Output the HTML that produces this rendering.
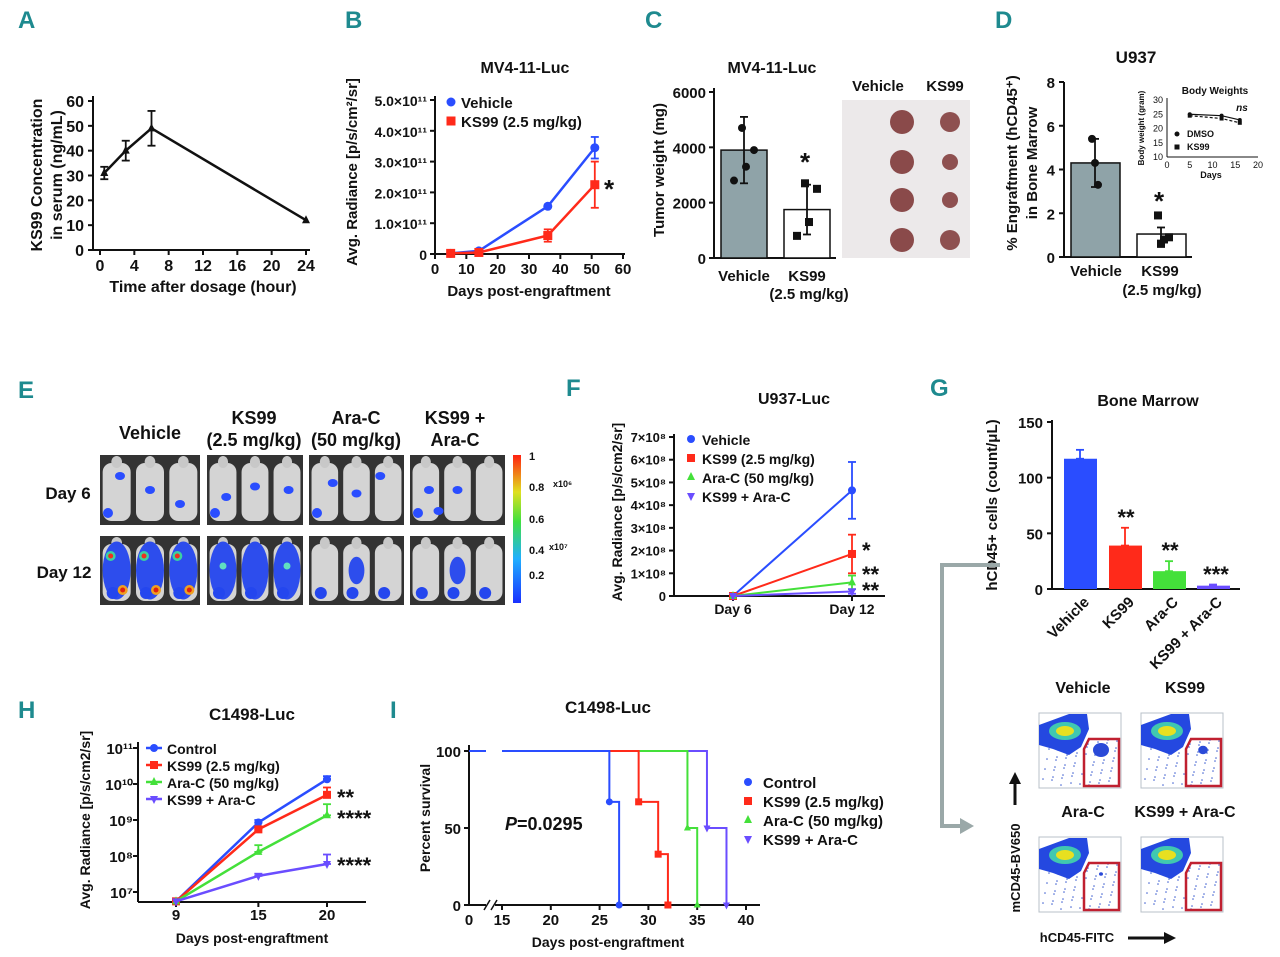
<!DOCTYPE html>
<html><head><meta charset="utf-8">
<style>
html,body{margin:0;padding:0;background:#fff;}
svg{display:block;font-family:"Liberation Sans",Arial,sans-serif;font-weight:bold;}
</style></head>
<body>
<svg id="fig" width="1280" height="957" viewBox="0 0 1280 957" xmlns="http://www.w3.org/2000/svg"></svg>
<script>
// ---------- DATA ----------
// Panel A
const aTimes=[0.5,3,6,24];
const aConc=[31,40,49,12];
const aErr=[2.5,4,7,0];
const aXTicks=[0,4,8,12,16,20,24];
const aYTicks=[0,10,20,30,40,50,60];
// Panel B
const bDays=[5,14,36,51];
const bVehicle=[0.02,0.1,1.55,3.45];
const bVehicleErr=[0,0,0,0.35];
const bKS99=[0.02,0.05,0.6,2.25];
const bKS99Err=[0,0,0.2,0.75];
const bXTicks=[0,10,20,30,40,50,60];
const bYTicks=[0,1,2,3,4,5];
const bYLabels=["0","1.0×10¹¹","2.0×10¹¹","3.0×10¹¹","4.0×10¹¹","5.0×10¹¹"];
// Panel C
const cGroups=["Vehicle","KS99"];
const cMeans=[3900,1750];
const cErrs=[1200,900];
const cPoints=[[4700,3900,3300,2800],[2700,2500,1300,800]];
const cYTicks=[0,2000,4000,6000];
// Panel D
const dMeans=[4.3,1.05];
const dErrs=[1.1,0.3];
const dPoints=[[5.4,3.3,4.3],[1.9,0.8,0.6,0.9]];
const dYTicks=[0,2,4,6,8];
const dInsetDays=[5,12,16];
const dInsetDMSO=[25,24.5,23];
const dInsetKS99=[24.5,23.5,22];
const dInsetYTicks=[10,15,20,25,30];
const dInsetXTicks=[0,5,10,15,20];
// Panel F
const fDays=["Day 6","Day 12"];
const fVehicle=[0,4.65];const fVehicleErr=[0,1.25];
const fKS99=[0,1.85];const fKS99Err=[0,0.85];
const fAraC=[0,0.6];const fAraCErr=[0,0.3];
const fCombo=[0,0.2];const fComboErr=[0,0.1];
const fYTicks=[0,1,2,3,4,5,6,7];
// Panel G
const gGroups=["Vehicle","KS99","Ara-C","KS99 + Ara-C"];
const gMeans=[117,39,16,3];
const gErrs=[8,16,9,1];
const gYTicks=[0,50,100,150];
// Panel H
const hDays=[9,15,20];
const hControl=[5.5e6,8.5e8,1.35e10];
const hKS99=[5.5e6,5.5e8,5e9];
const hAraC=[5.5e6,1.3e8,1.35e9];
const hCombo=[5.5e6,2.8e7,6e7];
const hControlErr=[0,1.5e8,3e9];
const hKS99Err=[0,1e8,3e9];
const hAraCErr=[0,7e7,1.4e9];
const hComboErr=[0,4e6,5e7];
const hYExp=[7,8,9,10,11];
// Panel I (survival steps: [time, percent])
const iControl=[[0,100],[26,100],[26,67],[27,67],[27,0]];
const iKS99=[[0,100],[29,100],[29,67],[31,67],[31,33],[32,33],[32,0]];
const iAraC=[[0,100],[34,100],[34,50],[35,50],[35,0]];
const iCombo=[[0,100],[36,100],[36,50],[38,50],[38,0]];
const iXTicks=[15,20,25,30,35,40];
const iYTicks=[0,50,100];

// ---------- HELPERS ----------
const NS="http://www.w3.org/2000/svg";
const svg=document.getElementById('fig');
function mk(tag,attrs,name,parent){
  const el=document.createElementNS(NS,tag);
  for(const k in attrs) el.setAttribute(k,attrs[k]);
  
  
  (parent||svg).appendChild(el);
  return el;
}
function T(x,y,s,size,anchor,name,extra){
  const a=Object.assign({x:x,y:y,'font-size':size,'text-anchor':anchor||'start',fill:'#111'},extra||{});
  const el=mk('text',a,name);
  el.textContent=s;
  return el;
}
function L(x1,y1,x2,y2,name,stroke,w,extra){
  return mk('line',Object.assign({x1:x1,y1:y1,x2:x2,y2:y2,stroke:stroke||'#111','stroke-width':w||2},extra||{}),name);
}
function P(d,name,stroke,w,fill){return mk('path',{d:d,stroke:stroke||'#111','stroke-width':w||2,fill:fill||'none'},name);}
function errbar(x,y1,y2,color,name){
  L(x,y1,x,y2,name,color,1.8);
  L(x-4,y1,x+4,y1,name+'-cap',color,1.8);
  L(x-4,y2,x+4,y2,name+'-cap',color,1.8);
}
function panelLetter(x,y,s){T(x,y,s,24,'start','panel-label-'+s,{fill:'#1e8a8f'});}
function marker(x,y,shape,color,name,size){
  const s=size||4.5;
  if(shape==='circle') return mk('circle',{cx:x,cy:y,r:s,fill:color},name);
  if(shape==='square') return mk('rect',{x:x-s,y:y-s,width:2*s,height:2*s,fill:color},name);
  if(shape==='tri') return mk('polygon',{points:`${x},${y-s-1} ${x-s},${y+s-1} ${x+s},${y+s-1}`,fill:color},name);
  if(shape==='dtri') return mk('polygon',{points:`${x},${y+s+1} ${x-s},${y-s+1} ${x+s},${y-s+1}`,fill:color},name);
}
const BLUE='#2a4dff',RED='#ff2a1a',GREEN='#44e03a',PURPLE='#6a4dff';

// ---------- PANEL A ----------
panelLetter(18,28,'A');
const axA={x:d=>100+d*(206/24),y:v=>250-v*(149/60)};
L(93,96,93,250,'a-y-axis');L(93,250,310,250,'a-x-axis');
aYTicks.forEach(v=>{L(88,axA.y(v),93,axA.y(v),'a-y-tick');T(84,axA.y(v)+6,v,16,'end','a-y-tick-label');});
aXTicks.forEach(v=>{L(axA.x(v),250,axA.x(v),255,'a-x-tick');T(axA.x(v),271,v,16,'middle','a-x-tick-label');});
T(203,292,'Time after dosage (hour)',16,'middle','a-x-title');
T(42,175,'KS99 Concentration',16,'middle','a-y-title',{transform:'rotate(-90 42 175)'});
T(62,175,'in serum (ng/mL)',16,'middle','a-y-title-2',{transform:'rotate(-90 62 175)'});
P('M'+aTimes.map((t,i)=>axA.x(t)+','+axA.y(aConc[i])).join(' L'),'a-line','#111',2.5);
aTimes.forEach((t,i)=>{if(aErr[i])errbar(axA.x(t),axA.y(aConc[i]-aErr[i]),axA.y(aConc[i]+aErr[i]),'#111','a-err');marker(axA.x(t),axA.y(aConc[i]),'tri','#111','a-point',4);});

// ---------- PANEL B ----------
panelLetter(345,28,'B');
T(525,73,'MV4-11-Luc',16,'middle','b-title');
const axB={x:d=>435+d*(188/60),y:v=>254-v*(154/5)};
L(435,96,435,254,'b-y-axis');L(435,254,625,254,'b-x-axis');
bYTicks.forEach((v,i)=>{L(430,axB.y(v),435,axB.y(v),'b-y-tick');T(427,axB.y(v)+6,bYLabels[i],14,'end','b-y-tick-label');});
bXTicks.forEach(v=>{L(axB.x(v),254,axB.x(v),259,'b-x-tick');T(axB.x(v),274,v,15,'middle','b-x-tick-label');});
T(529,296,'Days post-engraftment',15,'middle','b-x-title');
T(357,172,'Avg. Radiance [p/s/cm²/sr]',15,'middle','b-y-title',{transform:'rotate(-90 357 172)'});
P('M'+bDays.map((d,i)=>axB.x(d)+','+axB.y(bVehicle[i])).join(' L'),'b-vehicle-line',BLUE,2.5);
P('M'+bDays.map((d,i)=>axB.x(d)+','+axB.y(bKS99[i])).join(' L'),'b-ks99-line',RED,2.5);
bDays.forEach((d,i)=>{
  if(bVehicleErr[i])errbar(axB.x(d),axB.y(bVehicle[i]-bVehicleErr[i]),axB.y(bVehicle[i]+bVehicleErr[i]),BLUE,'b-vehicle-err');
  if(bKS99Err[i])errbar(axB.x(d),axB.y(bKS99[i]-bKS99Err[i]),axB.y(bKS99[i]+bKS99Err[i]),RED,'b-ks99-err');
  marker(axB.x(d),axB.y(bVehicle[i]),'circle',BLUE,'b-vehicle-point');
  marker(axB.x(d),axB.y(bKS99[i]),'square',RED,'b-ks99-point');
});
marker(451,102,'circle',BLUE,'b-legend-marker');T(461,108,'Vehicle',15,'start','b-legend-vehicle');
marker(451,121,'square',RED,'b-legend-marker');T(461,127,'KS99 (2.5 mg/kg)',15,'start','b-legend-ks99');
T(604,198,'*',26,'start','b-significance');

// ---------- PANEL C ----------
panelLetter(645,28,'C');
T(772,73,'MV4-11-Luc',16,'middle','c-title');
const axC={y:v=>258-v*(166/6000)};
const cBarX=[721,784];
L(714,88,714,258,'c-y-axis');L(714,258,836,258,'c-x-axis');
cYTicks.forEach(v=>{L(709,axC.y(v),714,axC.y(v),'c-y-tick');T(706,axC.y(v)+6,v,15,'end','c-y-tick-label');});
T(664,170,'Tumor weight (mg)',15,'middle','c-y-title',{transform:'rotate(-90 664 170)'});
cMeans.forEach((m,i)=>{
  mk('rect',{x:cBarX[i],y:axC.y(m),width:46,height:258-axC.y(m),fill:i===0?'#8fa3a8':'#fff',stroke:'#111','stroke-width':1.5},'c-bar-'+cGroups[i]);
  errbar(cBarX[i]+23,axC.y(m-cErrs[i]),axC.y(m+cErrs[i]),'#111','c-err');
  cPoints[i].forEach((p,j)=>marker(cBarX[i]+23+(j%2?10:-2)*(j>1?-1:1),axC.y(p),i===0?'circle':'square','#111','c-point',4));
});
T(744,281,'Vehicle',15,'middle','c-x-label');T(807,281,'KS99',15,'middle','c-x-label');T(809,299,'(2.5 mg/kg)',15,'middle','c-x-label-2');
T(800,171,'*',26,'start','c-significance');
mk('rect',{x:842,y:100,width:128,height:158,fill:'#ece9ea'},'c-tumor-photo');
T(878,91,'Vehicle',15,'middle','c-photo-label-vehicle');T(945,91,'KS99',15,'middle','c-photo-label-ks99');
[[122,120],[162,158],[200,200],[240,235]].forEach((r,k)=>{
  mk('circle',{cx:902,cy:r[0],r:12,fill:'#8a4a4a'},'c-tumor-vehicle');
  mk('circle',{cx:950,cy:r[0],r:[10,8,8,10][k],fill:'#8e5050'},'c-tumor-ks99');
});

// ---------- PANEL D ----------
panelLetter(995,28,'D');
T(1136,63,'U937',17,'middle','d-title');
const axD={y:v=>257-v*(175/8)};
const dBarX=[1071,1137];
L(1064,82,1064,257,'d-y-axis');L(1064,257,1192,257,'d-x-axis');
dYTicks.forEach(v=>{L(1059,axD.y(v),1064,axD.y(v),'d-y-tick');T(1055,axD.y(v)+6,v,15,'end','d-y-tick-label');});
T(1017,163,'% Engraftment (hCD45⁺)',15,'middle','d-y-title',{transform:'rotate(-90 1017 163)'});
T(1037,163,'in Bone Marrow',15,'middle','d-y-title-2',{transform:'rotate(-90 1037 163)'});
dMeans.forEach((m,i)=>{
  mk('rect',{x:dBarX[i],y:axD.y(m),width:49,height:257-axD.y(m),fill:i===0?'#8fa3a8':'#fff',stroke:'#111','stroke-width':1.5},'d-bar');
  errbar(dBarX[i]+24,axD.y(m-dErrs[i]),axD.y(m+dErrs[i]),'#111','d-err');
  dPoints[i].forEach((p,j)=>marker(dBarX[i]+24+[-3,3,0,8][j],axD.y(p),i===0?'circle':'square','#111','d-point',4));
});
T(1096,276,'Vehicle',15,'middle','d-x-label');T(1160,276,'KS99',15,'middle','d-x-label');T(1162,295,'(2.5 mg/kg)',15,'middle','d-x-label-2');
T(1154,210,'*',26,'start','d-significance');
const axDi={x:d=>1167+d*(91/20),y:v=>157-(v-10)*(57/20)};
T(1215,94,'Body Weights',10,'middle','d-inset-title');
L(1167,98,1167,157,'d-inset-y-axis',"#111",1);L(1167,157,1258,157,'d-inset-x-axis',"#111",1);
dInsetYTicks.forEach(v=>T(1163,axDi.y(v)+3,v,9,'end','d-inset-y-label',{'font-weight':'normal'}));
dInsetXTicks.forEach(v=>T(axDi.x(v),168,v,9,'middle','d-inset-x-label',{'font-weight':'normal'}));
T(1211,178,'Days',9,'middle','d-inset-x-title');
T(1144,128,'Body weight (gram)',8,'middle','d-inset-y-title',{transform:'rotate(-90 1144 128)'});
P('M'+dInsetDays.map((d,i)=>axDi.x(d)+','+axDi.y(dInsetDMSO[i])).join(' L'),'d-inset-dmso','#111',1.2);
P('M'+dInsetDays.map((d,i)=>axDi.x(d)+','+axDi.y(dInsetKS99[i])).join(' L'),'d-inset-ks99','#111',1.2).setAttribute('stroke-dasharray','3,2');
dInsetDays.forEach((d,i)=>{marker(axDi.x(d),axDi.y(dInsetDMSO[i]),'circle','#111','d-inset-point',2);marker(axDi.x(d),axDi.y(dInsetKS99[i]),'square','#111','d-inset-point',2);});
T(1242,111,'ns',10,'middle','d-inset-ns',{'font-style':'italic'});
marker(1177,134,'circle','#111','d-inset-legend',2.5);T(1187,137,'DMSO',9,'start','d-inset-legend-dmso');
marker(1177,147,'square','#111','d-inset-legend',2.5);T(1187,150,'KS99',9,'start','d-inset-legend-ks99');

// ---------- PANEL E ----------
panelLetter(18,398,'E');
T(150,439,'Vehicle',18,'middle','e-group-vehicle');
T(254,424,'KS99',18,'middle','e-group-ks99');T(254,446,'(2.5 mg/kg)',18,'middle','e-group-ks99-2');
T(356,424,'Ara-C',18,'middle','e-group-arac');T(356,446,'(50 mg/kg)',18,'middle','e-group-arac-2');
T(455,424,'KS99 +',18,'middle','e-group-combo');T(455,446,'Ara-C',18,'middle','e-group-combo-2');
T(68,499,'Day 6',17,'middle','e-row-day6');T(64,578,'Day 12',17,'middle','e-row-day12');
const eGroupX=[[100,200],[207,303],[309,404],[410,505]];
const eSpots6=[[[0.2,0.3],[0.5,0.5],[0.8,0.7]],[[0.2,0.6],[0.5,0.45],[0.85,0.5]],[[0.25,0.4],[0.5,0.55],[0.75,0.3]],[[0.2,0.5],[0.5,0.5],[0.3,0.8]]];
const eLevel12=[3,2,1,1];
eGroupX.forEach((g,gi)=>{
  [[455,525],[536,605]].forEach((r,ri)=>{
    mk('rect',{x:g[0],y:r[0],width:g[1]-g[0],height:r[1]-r[0],fill:'#333'},'e-mouse-image');
    const w=(g[1]-g[0])/3;
    for(let m=0;m<3;m++){
      const cx=g[0]+w*m+w/2;
      mk('rect',{x:cx-w*0.42,y:r[0]+8,width:w*0.84,height:r[1]-r[0]-12,rx:9,fill:'#d4d4d4'},'e-mouse');
      mk('ellipse',{cx:cx,cy:r[0]+7,rx:w*0.16,ry:6,fill:'#c8c8c8'},'e-mouse-head');
    }
    if(ri===0){
      eSpots6[gi].forEach(s=>mk('ellipse',{cx:g[0]+s[0]*(g[1]-g[0]),cy:r[0]+s[1]*(r[1]-r[0]),rx:5,ry:4,fill:BLUE},'e-signal-spot'));
      mk('circle',{cx:g[0]+8,cy:r[1]-12,r:5,fill:BLUE},'e-signal-spot');
    } else {
      const lv=eLevel12[gi];
      for(let m=0;m<3;m++){
        const cx=g[0]+w*m+w/2;
        if(lv>=2||m===1) mk('ellipse',{cx:cx,cy:(r[0]+r[1])/2,rx:w*(lv>=2?0.42:0.25),ry:(r[1]-r[0])*(lv>=2?0.42:0.2),fill:'#2446ee',opacity:0.95},'e-signal');
        mk('circle',{cx:cx-4,cy:r[1]-12,r:6,fill:'#2446ee'},'e-signal-spot');
        if(lv===3){mk('circle',{cx:cx-6,cy:r[0]+20,r:5,fill:'#3cd0a0'},'e-hot');mk('circle',{cx:cx-6,cy:r[0]+20,r:2.5,fill:'#ee3020'},'e-hot-core');mk('circle',{cx:cx+6,cy:r[1]-15,r:5,fill:'#f0a020'},'e-hot');mk('circle',{cx:cx+6,cy:r[1]-15,r:2.5,fill:'#e02010'},'e-hot-core');}
        if(lv===2&&m!==1) mk('circle',{cx:cx,cy:r[0]+30,r:3.5,fill:'#60e0c0'},'e-hot');
      }
    }
  });
});
const grad=mk('linearGradient',{id:'cbar',x1:0,y1:1,x2:0,y2:0},'e-colorbar-gradient',mk('defs',{},'defs'));
[['0','#1a30ff'],['0.3','#20b0ff'],['0.55','#40e040'],['0.75','#e0e020'],['1','#ff2010']].forEach(s=>mk('stop',{offset:s[0],'stop-color':s[1]},'stop',grad));
mk('rect',{x:513,y:455,width:8,height:148,fill:'url(#cbar)'},'e-colorbar');
T(529,460,'1',11,'start','e-cbar-label');T(529,491,'0.8',11,'start','e-cbar-label');T(553,487,'x10⁶',9,'start','e-cbar-unit');
T(529,523,'0.6',11,'start','e-cbar-label');T(529,554,'0.4',11,'start','e-cbar-label');T(549,550,'x10⁷',9,'start','e-cbar-unit');T(529,579,'0.2',11,'start','e-cbar-label');

// ---------- PANEL F ----------
panelLetter(566,396,'F');
T(794,404,'U937-Luc',16,'middle','f-title');
const axF={x:i=>733+i*119,y:v=>596-v*(159/7)};
L(674,434,674,596,'f-y-axis');L(674,596,885,596,'f-x-axis');
fYTicks.forEach(v=>{L(669,axF.y(v),674,axF.y(v),'f-y-tick');T(666,axF.y(v)+5,v===0?'0':v+'×10⁸',13,'end','f-y-tick-label');});
fDays.forEach((d,i)=>{L(axF.x(i),596,axF.x(i),601,'f-x-tick');T(axF.x(i),614,d,14,'middle','f-x-tick-label');});
T(622,512,'Avg. Radiance [p/s/cm2/sr]',14,'middle','f-y-title',{transform:'rotate(-90 622 512)',});
[[fVehicle,fVehicleErr,BLUE,'circle','vehicle'],[fKS99,fKS99Err,RED,'square','ks99'],[fAraC,fAraCErr,GREEN,'tri','arac'],[fCombo,fComboErr,PURPLE,'dtri','combo']].forEach(s=>{
  P('M'+s[0].map((v,i)=>axF.x(i)+','+axF.y(v)).join(' L'),'f-'+s[4]+'-line',s[2],2);
  s[0].forEach((v,i)=>{if(s[1][i])errbar(axF.x(i),axF.y(v-s[1][i]),axF.y(v+s[1][i]),s[2],'f-'+s[4]+'-err');marker(axF.x(i),axF.y(v),s[3],s[2],'f-'+s[4]+'-point',4);});
});
[['Vehicle',BLUE,'circle'],['KS99 (2.5 mg/kg)',RED,'square'],['Ara-C (50 mg/kg)',GREEN,'tri'],['KS99 + Ara-C',PURPLE,'dtri']].forEach((l,i)=>{
  marker(691,439+i*19,l[2],l[1],'f-legend-marker',4);T(702,445+i*19,l[0],14,'start','f-legend-entry');
});
T(862,558,'*',22,'start','f-sig-ks99');T(862,582,'**',22,'start','f-sig-arac');T(862,598,'**',22,'start','f-sig-combo');

// ---------- PANEL G ----------
panelLetter(930,396,'G');
T(1148,406,'Bone Marrow',16,'middle','g-title');
const axG={y:v=>589-v*(167/150)};
const gBarX=[1064,1109,1153,1197];
const gColors=[BLUE,RED,GREEN,PURPLE];
L(1052,420,1052,589,'g-y-axis');L(1052,589,1240,589,'g-x-axis');
gYTicks.forEach(v=>{L(1047,axG.y(v),1052,axG.y(v),'g-y-tick');T(1043,axG.y(v)+6,v,15,'end','g-y-tick-label');});
T(997,505,'hCD45+ cells (count/μL)',15,'middle','g-y-title',{transform:'rotate(-90 997 505)'});
gMeans.forEach((m,i)=>{
  mk('rect',{x:gBarX[i],y:axG.y(m),width:33,height:589-axG.y(m),fill:gColors[i]},'g-bar-'+i);
  errbar(gBarX[i]+16,axG.y(m),axG.y(m+gErrs[i]),gColors[i],'g-err');
  const lx=gBarX[i]+26;
  T(lx,603,gGroups[i],15,'end','g-x-label',{transform:`rotate(-45 ${lx} 603)`});
});
T(1126,525,'**',22,'middle','g-sig');T(1170,558,'**',22,'middle','g-sig');T(1216,582,'***',22,'middle','g-sig');
P('M1000,565 L942,565 L942,826 L962,826','g-arrow','#9aa8a8',4);
mk('polygon',{points:'960,818 974,826 960,834',fill:'#9aa8a8'},'g-arrowhead');
const flow=[[1039,713,'Vehicle',1],[1141,713,'KS99',0.6],[1039,837,'Ara-C',0.25],[1141,837,'KS99 + Ara-C',0]];
flow.forEach((f,i)=>{
  const x0=f[0],y0=f[1];
  T(x0+44,y0-20,f[2],16,'middle','g-flow-title');
  const g=mk('g',{},'g-flow-plot');
  mk('rect',{x:x0,y:y0,width:82,height:75,fill:'#fff',stroke:'#b8c0c8','stroke-width':1},'g-flow-frame',g);
  for(let k=0;k<70;k++){mk('circle',{cx:x0+3+((k*37)%76),cy:y0+25+((k*53)%48),r:0.8,fill:'#4060d0'},'g-flow-dot',g);}
  mk('polygon',{points:`${x0},${y0+12} ${x0+30},${y0+1} ${x0+48},${y0+1} ${x0+50},${y0+16} ${x0+42},${y0+34} ${x0+30},${y0+42} ${x0+14},${y0+36} ${x0},${y0+32}`,fill:'#2448e0'},'g-flow-population',g);
  mk('ellipse',{cx:x0+26,cy:y0+18,rx:16,ry:9,fill:'#40c8b0'},'g-flow-density',g);
  mk('ellipse',{cx:x0+26,cy:y0+18,rx:9,ry:5,fill:'#e8e020'},'g-flow-core',g);
  if(f[3]>0) mk('ellipse',{cx:x0+62,cy:y0+37,rx:8*f[3],ry:7*f[3],fill:'#2a4ad8'},'g-flow-hcd45',g);
  mk('polygon',{points:`${x0+45},${y0+36} ${x0+50},${y0+26} ${x0+80},${y0+26} ${x0+80},${y0+73} ${x0+45},${y0+73}`,fill:'none',stroke:'#c02030','stroke-width':2.5},'g-flow-gate',g);
});
T(1020,868,'mCD45-BV650',13,'middle','g-flow-y-title',{transform:'rotate(-90 1020 868)'});
L(1015,805,1015,782,'g-flow-y-arrow','#111',3);mk('polygon',{points:'1009,784 1015,772 1021,784',fill:'#111'},'g-flow-y-arrowhead');
T(1077,942,'hCD45-FITC',13,'middle','g-flow-x-title');
L(1128,938,1166,938,'g-flow-x-arrow','#111',3);mk('polygon',{points:'1164,932 1176,938 1164,944',fill:'#111'},'g-flow-x-arrowhead');

// ---------- PANEL H ----------
panelLetter(18,718,'H');
T(252,720,'C1498-Luc',17,'middle','h-title');
const axH={x:d=>176+(d-9)*(151/11),y:v=>892-(Math.log10(v)-7)*36};
L(138,742,138,902,'h-y-axis');L(138,902,366,902,'h-x-axis');
hYExp.forEach(e=>{L(133,axH.y(Math.pow(10,e)),138,axH.y(Math.pow(10,e)),'h-y-tick');T(133,axH.y(Math.pow(10,e))+6,'10'+['⁷','⁸','⁹','¹⁰','¹¹'][e-7],15,'end','h-y-tick-label');});
hDays.forEach(d=>{L(axH.x(d),902,axH.x(d),907,'h-x-tick');T(axH.x(d),920,d,15,'middle','h-x-tick-label');});
T(252,943,'Days post-engraftment',14,'middle','h-x-title');
T(90,820,'Avg. Radiance [p/s/cm2/sr]',14,'middle','h-y-title',{transform:'rotate(-90 90 820)'});
[[hControl,hControlErr,BLUE,'circle','control'],[hKS99,hKS99Err,RED,'square','ks99'],[hAraC,hAraCErr,GREEN,'tri','arac'],[hCombo,hComboErr,PURPLE,'dtri','combo']].forEach(s=>{
  P('M'+s[0].map((v,i)=>axH.x(hDays[i])+','+axH.y(v)).join(' L'),'h-'+s[4]+'-line',s[2],2.5);
  s[0].forEach((v,i)=>{if(s[1]&&s[1][i])errbar(axH.x(hDays[i]),axH.y(v),axH.y(v+s[1][i]),s[2],'h-'+s[4]+'-err');marker(axH.x(hDays[i]),axH.y(v),s[3],s[2],'h-'+s[4]+'-point',4);});
});
[['Control',BLUE,'circle'],['KS99 (2.5 mg/kg)',RED,'square'],['Ara-C (50 mg/kg)',GREEN,'tri'],['KS99 + Ara-C',PURPLE,'dtri']].forEach((l,i)=>{
  L(146,748+i*17,162,748+i*17,'h-legend-line',l[1],2.5);
  marker(154,748+i*17,l[2],l[1],'h-legend-marker',4);T(167,754+i*17,l[0],14,'start','h-legend-entry');
});
T(337,805,'**',22,'start','h-sig');T(337,826,'****',22,'start','h-sig');T(337,873,'****',22,'start','h-sig');

// ---------- PANEL I ----------
panelLetter(390,718,'I');
T(608,713,'C1498-Luc',17,'middle','i-title');
const axI={x:d=>d<15?469+d*(20/15):502+(d-15)*(244/25),y:v=>905-v*1.54};
L(469,745,469,905,'i-y-axis');L(469,905,486,905,'i-x-axis-a');L(495,905,760,905,'i-x-axis-b');
L(484,910,490,900,'i-break','#111',1.5);L(491,910,497,900,'i-break','#111',1.5);
iYTicks.forEach(v=>{L(464,axI.y(v),469,axI.y(v),'i-y-tick');T(461,axI.y(v)+6,v,15,'end','i-y-tick-label');});
T(469,925,'0',15,'middle','i-x-tick-label');
iXTicks.forEach(d=>{L(axI.x(d),905,axI.x(d),910,'i-x-tick');T(axI.x(d),925,d,15,'middle','i-x-tick-label');});
T(608,947,'Days post-engraftment',14,'middle','i-x-title');
T(430,818,'Percent survival',14,'middle','i-y-title',{transform:'rotate(-90 430 818)'});
L(469,751,486,751,'i-top-line',BLUE,2);
[[iCombo,PURPLE,'combo','dtri'],[iAraC,GREEN,'arac','tri'],[iKS99,RED,'ks99','square'],[iControl,BLUE,'control','circle']].forEach(s=>{
  const pts=s[0].map(p=>[p[0]===0?15:p[0],p[1]]);
  P('M'+pts.map(p=>axI.x(p[0])+','+axI.y(p[1])).join(' L'),'i-'+s[2]+'-curve',s[1],2);
  s[0].forEach((p,i)=>{if(i>0&&i%2===0)marker(axI.x(p[0]),axI.y(p[1]),s[3],s[1],'i-'+s[2]+'-event',3.5);});
});
const pv=T(505,830,'',18,'start','i-pvalue-text');
pv.innerHTML='<tspan font-style="italic">P</tspan>=0.0295';
[['Control',BLUE,'circle'],['KS99 (2.5 mg/kg)',RED,'square'],['Ara-C (50 mg/kg)',GREEN,'tri'],['KS99 + Ara-C',PURPLE,'dtri']].forEach((l,i)=>{
  marker(748,782+i*19,l[2],l[1],'i-legend-marker',4);T(763,788+i*19,l[0],15,'start','i-legend-entry');
});
</script>
</body></html>
